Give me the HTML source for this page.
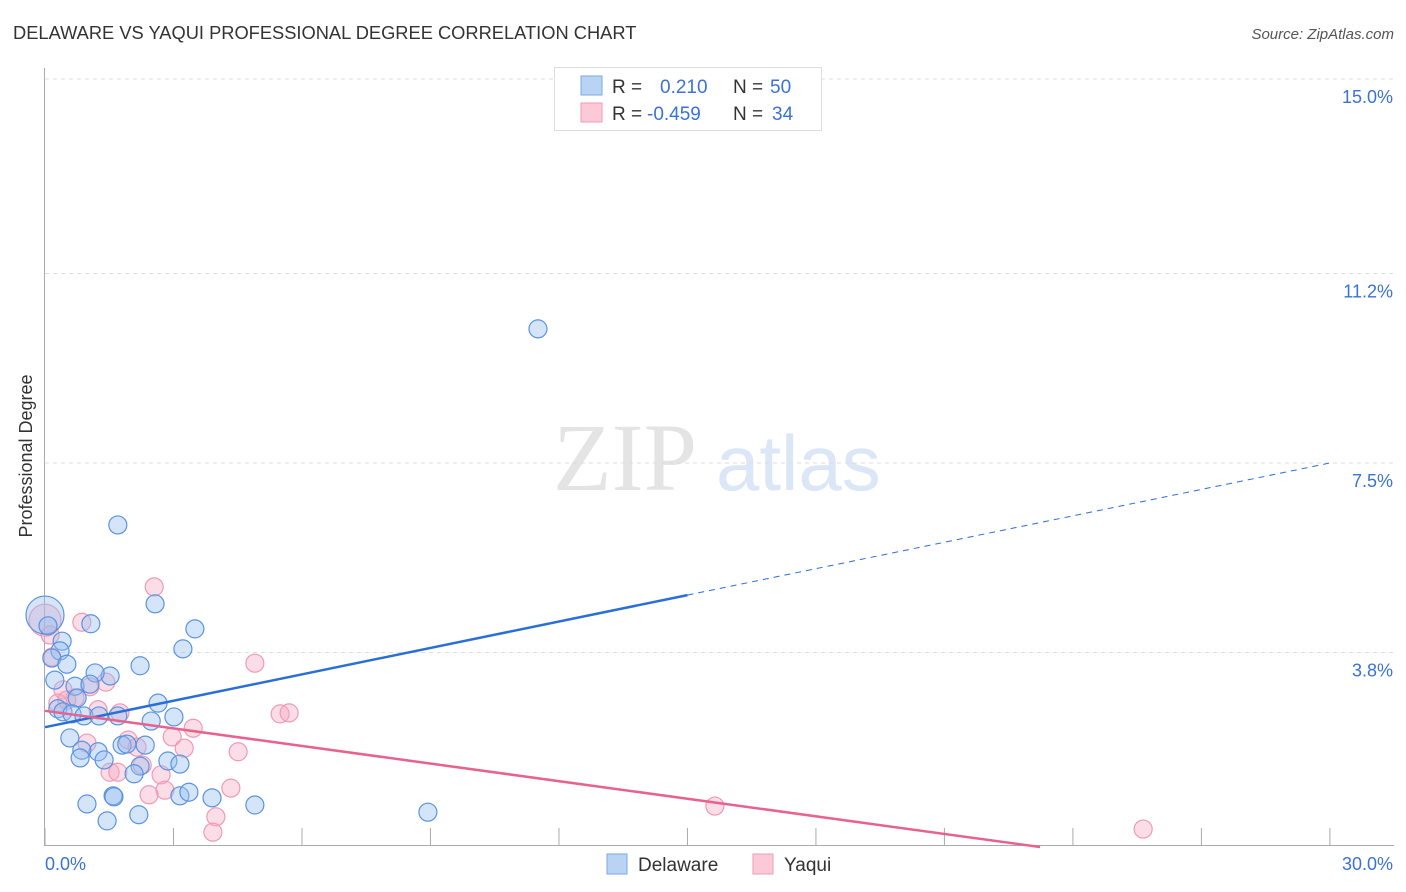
<!DOCTYPE html>
<html><head><meta charset="utf-8"><style>
body{margin:0;background:#fff;font-family:"Liberation Sans",sans-serif;}
svg{display:block}
</style></head><body>
<svg id="c" width="1406" height="892">
<text x="13" y="39" font-size="18.3" fill="#333">DELAWARE VS YAQUI PROFESSIONAL DEGREE CORRELATION CHART</text>
<text x="1394" y="39" font-size="15" font-style="italic" fill="#555" text-anchor="end">Source: ZipAtlas.com</text>
<text x="32" y="456" font-size="18" fill="#333" text-anchor="middle" transform="rotate(-90 32 456)">Professional Degree</text>
<g>
<text x="553" y="490" font-family="Liberation Serif,serif" font-size="96" fill="#e4e4e4">ZIP</text>
<text x="716" y="490" font-size="78" fill="#dbe6f6">atlas</text>
</g>
<g id="grid"></g><g id="marks"></g><g id="lines"></g>
<g>
<rect x="554.5" y="67.5" width="267" height="63" fill="#fff" stroke="#ddd"/>
<rect x="581" y="76" width="21" height="19" fill="#b9d3f5" stroke="#7aaae8"/>
<rect x="581" y="103" width="21" height="19" fill="#fbc9d8" stroke="#f09ab5"/>
<text x="612" y="93" font-size="19" fill="#333">R =</text>
<text x="660" y="93" font-size="19" fill="#3a72d8">0.210</text>
<text x="733" y="93" font-size="19" fill="#333">N =</text>
<text x="770" y="93" font-size="19" fill="#3a72d8">50</text>
<text x="612" y="120" font-size="19" fill="#333">R =</text>
<text x="647" y="120" font-size="19" fill="#3a72d8">-0.459</text>
<text x="733" y="120" font-size="19" fill="#333">N =</text>
<text x="772" y="120" font-size="19" fill="#3a72d8">34</text>
</g>
<g>
<rect x="607" y="854" width="20" height="20" fill="#b9d3f5" stroke="#7aaae8"/>
<text x="638" y="871" font-size="19" fill="#333">Delaware</text>
<rect x="753" y="854" width="20" height="20" fill="#fbc9d8" stroke="#f09ab5"/>
<text x="784" y="871" font-size="19" fill="#333">Yaqui</text>
</g>
</svg>
<script>
const yTicks=[15.0,11.2,7.5,3.8];
const yTickLabels=["15.0%","11.2%","7.5%","3.8%"];
const xTicks=[0,3,6,9,12,15,18,21,24,27,30];
const xLabels=["0.0%","30.0%"];
const delX=[0,.07,.40,.35,.16,.51,.23,1.07,1.52,1.17,.70,1.05,.75,.30,.42,.63,.91,1.26,1.70,2.22,2.57,1.70,3.50,3.22,2.64,3.01,2.48,.58,1.24,.86,.82,1.38,1.80,1.91,2.34,2.87,3.15,2.22,2.08,.98,1.59,1.61,1.45,2.19,3.15,3.36,3.90,4.90,8.94,11.51];
const delY=[4.53,4.32,4.02,3.83,3.69,3.57,3.26,4.36,3.34,3.40,3.14,3.18,2.91,2.70,2.64,2.60,2.56,2.56,2.56,3.54,4.75,6.29,4.26,3.87,2.81,2.54,2.46,2.13,1.86,1.89,1.74,1.70,1.99,2.01,1.99,1.68,1.62,1.58,1.43,.84,1.00,.98,.51,.63,1.00,1.07,.96,.82,.68,10.12];
const yaqX=[0,2.55,.86,4.90,1.42,1.05,.42,.30,1.24,1.75,5.49,5.70,3.46,2.97,.98,1.94,2.15,3.25,4.51,2.27,1.52,1.70,2.71,4.34,2.80,2.43,3.99,3.92,15.64,25.64,.16,.70,.51,.12];
const yaqY=[4.43,5.08,4.39,3.59,3.22,3.13,3.07,2.81,2.68,2.62,2.60,2.62,2.32,2.15,2.03,2.09,1.95,1.93,1.86,1.60,1.46,1.46,1.41,1.15,1.11,1.02,.59,.29,.80,.35,3.71,2.91,2.87,4.14];
const delTrend=[2.34,0.1720]; // intercept, slope
const yaqTrend=[2.66,-0.1145];
const sx=v=>45+v*42.83, sy=v=>847-v*51.2;
const NS="http://www.w3.org/2000/svg";
function mk(parent,tag,attrs){const e=document.createElementNS(NS,tag);for(const k in attrs)e.setAttribute(k,attrs[k]);document.getElementById(parent).appendChild(e);return e;}
yTicks.forEach((t,i)=>{
 const l=mk('grid','line',{x1:45,x2:1394,y1:sy(t),y2:sy(t),stroke:'#ddd','stroke-dasharray':'4,4'});
 
 
 const tx=mk('grid','text',{x:1393,y:sy(t)+24,'font-size':18,fill:'#3a72d8','text-anchor':'end'});
 tx.textContent=yTickLabels[i];
 
 
});
let a=mk('grid','line',{x1:44.5,x2:44.5,y1:68,y2:845,stroke:'#aaa'});


a=mk('grid','line',{x1:44,x2:1394,y1:845.5,y2:845.5,stroke:'#aaa'});


xTicks.forEach(t=>{
 const l=mk('grid','line',{x1:sx(t),x2:sx(t),y1:828,y2:845,stroke:'#aaa'});
 
 
});
let t=mk('grid','text',{x:45,y:870,'font-size':18,fill:'#3a72d8'});t.textContent=xLabels[0];


t=mk('grid','text',{x:1393,y:870,'font-size':18,fill:'#3a72d8','text-anchor':'end'});t.textContent=xLabels[1];


function pts(X,Y,fill,stroke,name){X.forEach((x,i)=>{
 const r=(i===0)?(name==='delaware-point'?19:16):9;
 const c=mk('marks','circle',{cx:sx(x),cy:sy(Y[i]),r:r,fill:fill,stroke:stroke,'stroke-width':1.2});
 
 
});}
pts(yaqX,yaqY,'rgba(246,170,195,0.4)','#f09ab5','yaqui-point');
pts(delX,delY,'rgba(150,190,240,0.4)','#5b93e0','delaware-point');
let L=mk('lines','line',{x1:sx(0),y1:sy(delTrend[0]),x2:sx(15),y2:sy(delTrend[0]+delTrend[1]*15),stroke:'#2a6fd6','stroke-width':2.5});


L=mk('lines','line',{x1:sx(15),y1:sy(delTrend[0]+delTrend[1]*15),x2:sx(30),y2:sy(delTrend[0]+delTrend[1]*30),stroke:'#2a6fd6','stroke-width':1,'stroke-dasharray':'6,5'});


const xEnd=-yaqTrend[0]/yaqTrend[1];
L=mk('lines','line',{x1:sx(0),y1:sy(yaqTrend[0]),x2:sx(xEnd),y2:sy(0),stroke:'#e8628e','stroke-width':2.5});


</script>
</body></html>
